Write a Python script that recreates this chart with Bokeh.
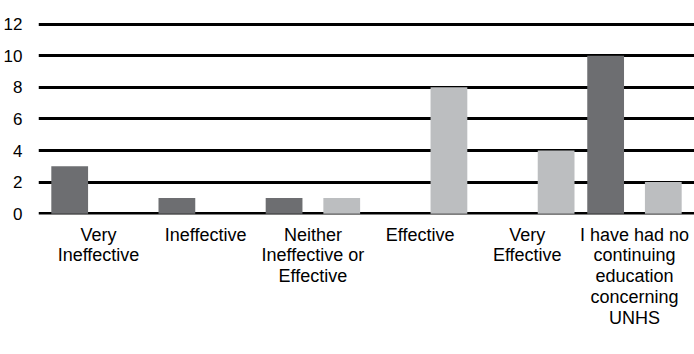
from bokeh.plotting import figure
from bokeh.models import ColumnDataSource, FactorRange, Range1d, FixedTicker, Legend, LegendItem
from bokeh.transform import dodge
from bokeh.embed import file_html
from bokeh.resources import INLINE

categories = ["Very\nIneffective", "Ineffective", "Neither\nIneffective or\nEffective",
              "Effective", "Very\nEffective",
              "I have had no\ncontinuing\neducation\nconcerning\nUNHS"]
pre_survey = [3, 1, 1, 0, 0, 10]
post_survey = [0, 0, 1, 8, 4, 2]
y_ticks = [0, 2, 4, 6, 8, 10, 12]

PRE_COLOR = "#6d6e71"
POST_COLOR = "#bcbec0"
FONT = "Liberation Sans"

src = ColumnDataSource(dict(cat=categories, pre=pre_survey, post=post_survey))

p = figure(x_range=FactorRange(*categories, range_padding=0.02),
           y_range=Range1d(-0.05, 12.1),
           width=694, height=354,
           min_border_left=33, min_border_top=22, min_border_right=0, min_border_bottom=140,
           output_backend="svg", toolbar_location=None, tools="")

r_pre = p.vbar(x=dodge("cat", -0.269, range=p.x_range), top="pre", width=0.343,
               source=src, color=PRE_COLOR, line_color=None)
r_post = p.vbar(x=dodge("cat", 0.269, range=p.x_range), top="post", width=0.343,
                source=src, color=POST_COLOR, line_color=None)

p.outline_line_color = None
p.xgrid.grid_line_color = None
p.ygrid.grid_line_color = "black"
p.ygrid.grid_line_width = 3
p.yaxis.ticker = FixedTicker(ticks=y_ticks)

for ax in (p.xaxis[0], p.yaxis[0]):
    ax.axis_line_color = None
    ax.major_tick_line_color = None
    ax.minor_tick_line_color = None
    ax.major_label_text_font = FONT
    ax.major_label_text_color = "black"

p.yaxis.major_label_text_font_size = "17px"
p.xaxis.major_label_text_font_size = "18px"
p.xaxis.major_label_text_line_height = 1.04
p.yaxis.major_label_standoff = 10
p.yaxis.major_label_text_baseline = "alphabetic"
p.xaxis.major_label_standoff = 4

legend = Legend(items=[LegendItem(label="Pre-Survey", renderers=[r_pre]),
                       LegendItem(label="Post-Survey", renderers=[r_post])],
                orientation="horizontal", location=(215, -137),
                border_line_color=None, background_fill_alpha=0,
                label_text_font=FONT, label_text_font_size="18px",
                glyph_width=16, glyph_height=16, spacing=20,
                label_standoff=4, padding=0, margin=0)
p.add_layout(legend, "center")

open("out.html", "w").write(file_html(p, INLINE))
